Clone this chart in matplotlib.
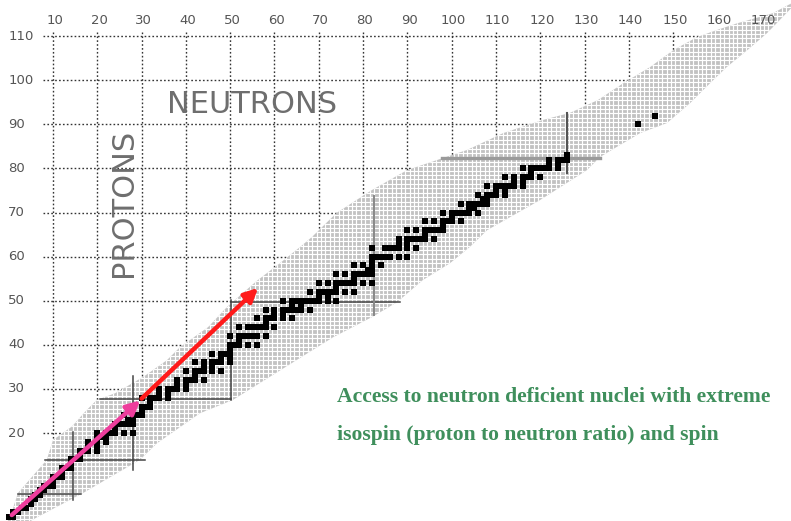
import numpy as np
import matplotlib
matplotlib.use("Agg")
from matplotlib import pyplot as plt

# tick labels of the chart (neutron number N on top, proton number Z on the left)
x_ticks = [10, 20, 30, 40, 50, 60, 70, 80, 90, 100, 110, 120, 130, 140, 150, 160, 170]
y_ticks = [20, 30, 40, 50, 60, 70, 80, 90, 100, 110]
grid_x = [10, 20, 30, 40, 50, 60, 70, 80, 90, 100, 110, 120, 130, 140, 150]

# outline of the region of known nuclei
upper_n = [-0.5, 0.5, 2.1, 8.6, 10, 14.3, 17.6, 19.9, 24, 30.5, 35.7, 38.7, 45, 49.3, 56,
           61.2, 65.8, 68.5, 74, 82, 89.9, 94, 103.5, 111.6, 120.6, 126.7, 133, 138.7,
           144.8, 150, 155.4, 159.9, 164.4, 172.5, 176.8]
upper_z = [-0.5, 1.5, 6.4, 13.9, 18.4, 21.5, 25.2, 27.5, 29, 32.8, 36.5, 39.5, 44, 48.6, 54.5,
           58.5, 62.2, 64.5, 69.9, 75.1, 79.6, 81, 84.2, 88, 91, 92.6, 95.5, 99.3,
           103, 106.8, 109.8, 111.4, 112.9, 115.2, 117.5]
lower_n = [176.8, 174.1, 171.2, 166.7, 162.1, 158.3, 153.8, 148.6, 142.5, 137.3, 133.5, 130.5,
           119.9, 108, 104.1, 99.6, 93.5, 87.7, 82.2, 73.2, 50.6, 43.2, 33.5, 29.6, 22.9,
           16.8, 6.4, 4]
lower_z = [116.5, 113.7, 110.7, 106.8, 103, 99.3, 94.8, 90.3, 88, 84.9, 82.6, 79.6,
           72.8, 66, 62.2, 58.5, 54.7, 49.7, 46.4, 41.7, 27.5, 24.5, 17.7, 13.9, 10,
           6.4, 0.9, -0.5]

# stable / primordial isotopes, mass numbers per element Z = 1, 2, ...
stable_masses = [
    [1, 2], [3, 4], [6, 7], [9], [10, 11], [12, 13], [14, 15], [16, 17, 18], [19],
    [20, 21, 22], [23], [24, 25, 26], [27], [28, 29, 30], [31], [32, 33, 34, 36],
    [35, 37], [36, 38, 40], [39, 40, 41], [40, 42, 43, 44, 46, 48], [45],
    [46, 47, 48, 49, 50], [50, 51], [50, 52, 53, 54], [55], [54, 56, 57, 58], [59],
    [58, 60, 61, 62, 64], [63, 65], [64, 66, 67, 68, 70], [69, 71], [70, 72, 73, 74, 76],
    [75], [74, 76, 77, 78, 80, 82], [79, 81], [78, 80, 82, 83, 84, 86], [85, 87],
    [84, 86, 87, 88], [89], [90, 91, 92, 94, 96], [93], [92, 94, 95, 96, 97, 98, 100],
    [], [96, 98, 99, 100, 101, 102, 104], [103], [102, 104, 105, 106, 108, 110],
    [107, 109], [106, 108, 110, 111, 112, 113, 114, 116], [113, 115],
    [112, 114, 115, 116, 117, 118, 119, 120, 122, 124], [121, 123],
    [120, 122, 123, 124, 125, 126, 128, 130], [127],
    [124, 126, 128, 129, 130, 131, 132, 134, 136], [133],
    [130, 132, 134, 135, 136, 137, 138], [138, 139], [136, 138, 140, 142], [141],
    [142, 143, 144, 145, 146, 148, 150], [], [144, 147, 148, 149, 150, 152, 154],
    [151, 153], [152, 154, 155, 156, 157, 158, 160], [159],
    [156, 158, 160, 161, 162, 163, 164], [165], [162, 164, 166, 167, 168, 170], [169],
    [168, 170, 171, 172, 173, 174, 176], [175, 176], [174, 176, 177, 178, 179, 180],
    [180, 181], [180, 182, 183, 184, 186], [185, 187], [184, 186, 187, 188, 189, 190, 192],
    [191, 193], [190, 192, 194, 195, 196, 198], [197], [196, 198, 199, 200, 201, 202, 204],
    [203, 205], [204, 206, 207, 208], [209], [], [], [], [], [], [], [232], [], [238],
]

# shell closure lines: (position, start, end)
magic_h = [(6.2, 2.1, 16.4), (13.9, 8.2, 30.8), (27.8, 20.6, 50.2), (49.7, 50.2, 88.3)]
magic_v = [(14.5, 4.8, 20.2), (28.1, 11.6, 33.0), (50.2, 27.6, 50.2)]

fig = plt.figure(figsize=(7.91, 5.21), dpi=100)
ax = fig.add_axes([0, 0, 1, 1])
ax.set_xlim(-1.96, 176.6)
ax.set_ylim(0.05, 118.2)
ax.axis('off')

dots = (0, (1.2, 1.6))
for n in grid_x:
    ax.plot([n, n], [110.9, np.interp(n, upper_n, upper_z)], color='#333333',
            lw=1.0, ls=dots, zorder=1)
for z in y_ticks:
    ax.plot([7.7, np.interp(z, upper_z, upper_n)], [z, z], color='#333333',
            lw=1.0, ls=dots, zorder=1)

region = ax.fill(upper_n + lower_n, upper_z + lower_z, color='#c2c2c2', lw=0, zorder=2)[0]
cells_v = ax.vlines(np.arange(-2, 178) + 0.5, -1, 119, color='white', lw=0.85, zorder=3)
cells_h = ax.hlines(np.arange(-1, 119) + 0.5, -2, 178, color='white', lw=0.85, zorder=3)
cells_v.set_clip_path(region)
cells_h.set_clip_path(region)

for z, a, b in magic_h:
    ax.plot([a, b], [z, z], color='#444444', lw=1.1, zorder=4)
for n, a, b in magic_v:
    ax.plot([n, n], [a, b], color='#444444', lw=1.1, zorder=4)
ax.plot([82.5, 82.5], [46.8, 73.7], color='#888888', lw=1.4, zorder=4)
ax.plot([97.8, 133.5], [82.3, 82.3], color='#9a9a9a', lw=2.4, zorder=4)
ax.plot([126, 126], [78.9, 92.5], color='#555555', lw=1.5, zorder=4)

stable_n, stable_z = [], []
for i, masses in enumerate(stable_masses):
    for a in masses:
        stable_z.append(i + 1)
        stable_n.append(a - (i + 1))
ax.scatter(stable_n, stable_z, marker='s', s=14, color='black', lw=0, zorder=5)

ax.annotate('', xy=(29.7, 27.4), xytext=(0.7, 1.4),
            arrowprops=dict(arrowstyle='-|>', color='#ee3d9c', lw=3.2,
                            mutation_scale=20, shrinkA=0, shrinkB=0), zorder=6)
ax.annotate('', xy=(56.3, 52.9), xytext=(30.0, 27.8),
            arrowprops=dict(arrowstyle='-|>', color='#ff1a1a', lw=3.2,
                            mutation_scale=20, shrinkA=0, shrinkB=0), zorder=6)

for n in x_ticks:
    ax.text(n + 0.4, 113.6, str(n), ha='center', va='center', fontsize=9.5,
            color='#555555', zorder=7)
for z in y_ticks:
    ax.text(-0.1, z, str(z), ha='left', va='center', fontsize=9.5,
            color='#555555', zorder=7)

ax.text(54.9, 94.4, 'NEUTRONS', ha='center', va='center', fontsize=22,
        color='#6e6e6e', zorder=7)
ax.text(26.0, 72.2, 'PROTONS', ha='center', va='center', fontsize=22,
        rotation=90, color='#6e6e6e', zorder=7)

green = '#3f8f5c'
ax.text(74.1, 28.2, 'Access to neutron deficient nuclei with extreme', ha='left',
        va='center', fontsize=15.6, fontweight='bold', family='Liberation Serif',
        color=green, zorder=7)
ax.text(74.1, 19.6, 'isospin (proton to neutron ratio) and spin', ha='left',
        va='center', fontsize=15.6, fontweight='bold', family='Liberation Serif',
        color=green, zorder=7)

fig.savefig('out.png', dpi=100)
